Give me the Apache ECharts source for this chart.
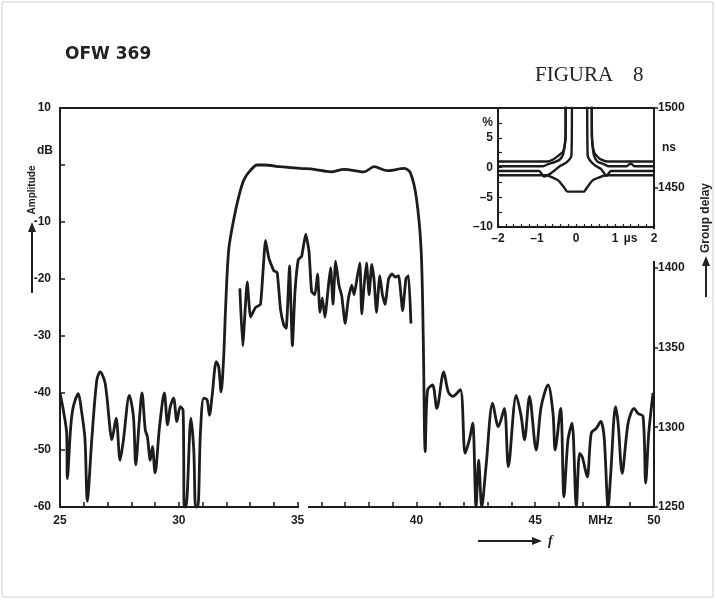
<!DOCTYPE html>
<html>
<head>
<meta charset="utf-8">
<script src="https://cdn.jsdelivr.net/npm/echarts@6/dist/echarts.min.js"></script>
<style>html,body{margin:0;padding:0;background:#fff}#c{width:716px;height:600px}</style>
</head>
<body>
<div id="c"></div>
<script>
// ---- Amplitude response (MHz, dB) ----
const ampFreq = [25.0,25.14,25.28,25.31,25.45,25.56,25.77,25.9,26.05,26.15,
 26.34,26.55,26.69,26.9,27.11,27.18,27.36,27.53,27.67,27.92,
 28.09,28.19,28.33,28.45,28.59,28.68,28.8,28.89,29.0,29.19,
 29.39,29.53,29.64,29.78,29.92,30.06,30.18,30.23,30.3,30.51,
 30.63,30.71,30.8,30.91,31.05,31.19,31.29,31.4,31.58,31.68,
 31.78,31.89,31.96,32.1,32.31,32.52,32.74,33.02,33.3,33.58,
 34.28,35.13,35.69,36.4,36.95,37.8,38.22,38.78,39.49,39.75,
 40.0,40.2,40.29,40.37,40.47,40.68,40.86,41.15,41.34,41.53,
 41.85,42.05,42.23,42.37,42.51,42.62,42.75,42.93,43.21,43.45,
 43.7,43.87,44.2,44.41,44.55,44.76,45.04,45.25,45.54,45.75,
 45.84,46.07,46.21,46.38,46.55,46.73,46.87,46.98,47.19,47.36,
 47.57,47.76,47.9,48.07,48.18,48.38,48.49,48.66,48.91,49.16,
 49.33,49.54,49.65,49.78,49.96];
const ampDb = [-40,-43,-47,-55,-46,-42.4,-40.1,-43,-48,-59,
 -48,-37.7,-36.3,-38.3,-46.5,-48.2,-44.4,-51.8,-48.2,-40.4,
 -44.1,-52.6,-45.3,-40,-46.5,-47.7,-51.8,-49.4,-54,-45.9,
 -40,-45.6,-42.4,-40.9,-45,-42.4,-43,-60,-60,-44.4,
 -50,-60,-60,-47,-40.9,-41.2,-43.9,-40.6,-34.5,-35.4,
 -39.8,-33.6,-26,-14.9,-9.6,-5.6,-2.6,-0.9,0,0,
 -0.3,-0.6,-0.75,-1.2,-0.75,-1.2,-0.3,-1,-0.6,-1.4,
 -5.8,-15,-30.7,-50.3,-39.5,-38.6,-42.7,-36.3,-39.8,-40.6,
 -39.4,-50.6,-48.2,-45.3,-60,-51.8,-60,-52.9,-41.8,-45.9,
 -42.7,-52.9,-40.4,-44.1,-48.2,-40.6,-50,-42.4,-38.6,-43.6,
 -50,-42.7,-58.2,-48.2,-45.3,-60,-50.6,-51.2,-54.7,-47,
 -46.2,-45,-47.7,-60,-54.1,-42.4,-45.3,-54.1,-45.3,-42.7,
 -43.6,-44.1,-55.8,-47,-40];

// ---- Group delay (MHz, ns) ----
const gdFreq = [32.57,32.69,32.88,33.02,33.23,33.44,33.65,33.79,34.0,34.14,
 34.28,34.42,34.52,34.66,34.78,34.89,35.03,35.17,35.34,35.48,
 35.59,35.73,35.84,35.94,36.04,36.15,36.3,36.39,36.49,36.6,
 36.74,36.86,37.0,37.14,37.28,37.38,37.52,37.62,37.7,37.8,
 37.9,38.01,38.12,38.22,38.32,38.46,38.57,38.68,38.83,38.97,
 39.11,39.25,39.42,39.56,39.67,39.77];
const gdNs = [1387,1351,1391,1369,1375,1377,1417,1406,1398,1397,
 1374,1364,1362,1401,1351,1385,1405,1407,1421,1410,
 1385,1383,1396,1372,1381,1369,1389,1400,1377,1404,
 1389,1382,1365,1381,1389,1383,1395,1403,1371,1389,
 1403,1383,1402,1392,1372,1395,1383,1377,1393,1396,
 1394,1395,1373,1393,1395,1365];

// ---- Inset: impulse response traces (µs, %) ----
const irT1 = [-2,-0.75,-0.6,-0.45,-0.33,-0.27,-0.26,0.40,0.41,0.47,0.6,0.8,2];
const irV1 = [1.0,1.0,1.3,2.0,2.7,5,12,12,5,2.5,1.5,1.0,1.0];
const irT2 = [-2,-0.85,-0.7,-0.55,-0.42,-0.33,-0.27,-0.26,0.40,0.41,0.46,0.55,0.7,0.85,1.3,1.4,1.5,2];
const irV2 = [0.2,0.2,0.6,0.9,1.3,2.2,5,12,12,5,2.0,1.0,0.6,0.2,0.2,0.7,0.2,0.2];
const irT3 = [-2,-0.95,-0.82,-0.7,-0.55,-0.4,-0.25,-0.12,-0.09,0.27,0.3,0.38,0.5,0.65,0.78,0.9,2];
const irV3 = [-0.6,-0.6,-1.5,-1.2,-0.5,0.3,0.8,2,12,12,2,1.0,0.3,-0.3,-1.4,-0.6,-0.6];
const irT4 = [-2,-0.75,-0.6,-0.45,-0.3,-0.22,0.2,0.28,0.42,0.58,0.78,2];
const irV4 = [-1.3,-1.3,-1.7,-2.2,-3.4,-4.05,-4.05,-3.4,-2.2,-1.7,-1.3,-1.3];

// ---- Tick labels ----
const freqLabels = {25:'25',30:'30',35:'35',40:'40',45:'45',48:'MHz',50:'50'};
const ampLabels = {10:'10','-10':'-10','-20':'-20','-30':'-30','-40':'-40','-50':'-50','-60':'-60'};
const ampUnitLabels = {'2.5':'dB'};
const delayLabels = {1250:'1250',1300:'1300',1350:'1350',1400:'1400',1450:'1450',1500:'1500'};
const delayUnitLabels = {1475:'ns'};
const insetXLabels = {'-2':'–2','-1':'–1','0':'0','1':'1','1.4':'µs','2':'2'};
const insetYLabels = {'7.5':'%','5':'5','0':'0','-5':'–5','-10':'–10'};

const zip = (a,b) => a.map((v,i)=>[v,b[i]]);
const ink = '#1c1c1c';
const FONT = "'Liberation Sans', Arial, sans-serif";
const lab = (extra) => Object.assign({color:ink, fontFamily:FONT, fontSize:12, fontWeight:'bold'}, extra||{});

const chart = echarts.init(document.getElementById('c'), null, {renderer:'canvas'});
const option = {
  backgroundColor:'#fff',
  animation:false,
  grid:[
    {left:60, top:108, width:594, height:399, show:false},
    {left:498, top:108, width:156, height:119, show:true, backgroundColor:'#fff', borderColor:ink, borderWidth:2, z:5}
  ],
  xAxis:[
    {gridIndex:0, type:'value', min:25, max:50, interval:1, position:'bottom',
     axisLine:{show:true, onZero:false, lineStyle:{color:ink, width:2}},
     axisTick:{show:true, inside:true, length:5, lineStyle:{color:ink, width:1.5}},
     axisLabel:lab({interval:0, margin:8, showMinLabel:true, showMaxLabel:true,
       formatter:v=>{const r=Math.round(v); const t=freqLabels[r]||''; return r===48?'{u|'+t+'}':t;},
       rich:{u:{color:ink, fontFamily:FONT, fontSize:12, fontWeight:'bold', padding:[0,12,0,0]}}}),
     splitLine:{show:false}},
    {gridIndex:0, type:'value', min:25, max:50, position:'top',
     axisLine:{show:true, onZero:false, lineStyle:{color:ink, width:2}},
     axisTick:{show:false}, axisLabel:{show:false}, splitLine:{show:false}},
    {gridIndex:1, type:'value', min:-2, max:2, interval:0.2, position:'bottom', z:6,
     axisLine:{show:true, onZero:false, lineStyle:{color:ink, width:2}},
     axisTick:{show:true, inside:true, length:3, lineStyle:{color:ink, width:1.2}},
     axisLabel:lab({interval:0, margin:6, showMinLabel:true, showMaxLabel:true,
       formatter:v=>insetXLabels[String(Math.round(v*10)/10)]||''}),
     splitLine:{show:false}}
  ],
  yAxis:[
    {gridIndex:0, type:'value', min:-60, max:10, interval:10, position:'left',
     axisLine:{show:true, onZero:false, lineStyle:{color:ink, width:2}},
     axisTick:{show:true, inside:true, length:5, lineStyle:{color:ink, width:1.5}},
     axisLabel:lab({margin:9, showMinLabel:true, showMaxLabel:true,
       formatter:v=>ampLabels[String(Math.round(v))]||''}),
     splitLine:{show:false}},
    {gridIndex:0, type:'value', min:1250, max:1500, interval:50, position:'right',
     axisLine:{show:true, onZero:false, lineStyle:{color:ink, width:2}},
     axisTick:{show:true, inside:false, length:4, lineStyle:{color:ink, width:1.5}},
     axisLabel:lab({margin:4, showMinLabel:true, showMaxLabel:true,
       formatter:v=>delayLabels[Math.round(v)]||''}),
     splitLine:{show:false}},
    {gridIndex:0, type:'value', min:1250, max:1500, interval:25, position:'right',
     axisLine:{show:false}, axisTick:{show:false},
     axisLabel:lab({margin:8, formatter:v=>delayUnitLabels[Math.round(v)]||''}),
     splitLine:{show:false}},
    {gridIndex:1, type:'value', min:-10, max:10, interval:2.5, position:'left', z:6,
     axisLine:{show:true, onZero:false, lineStyle:{color:ink, width:2}},
     axisTick:{show:true, inside:true, length:4, lineStyle:{color:ink, width:1.2}},
     axisLabel:lab({margin:5, showMinLabel:true, showMaxLabel:true,
       formatter:v=>insetYLabels[String(Math.round(v*10)/10)]||''}),
     splitLine:{show:false}},
    {gridIndex:0, type:'value', min:-60, max:10, interval:2.5, position:'left',
     axisLine:{show:false}, axisTick:{show:false},
     axisLabel:lab({margin:7, formatter:v=>ampUnitLabels[String(Math.round(v*10)/10)]||''}),
     splitLine:{show:false}}
  ],
  series:[
    {type:'line', xAxisIndex:0, yAxisIndex:0, data:zip(ampFreq,ampDb), showSymbol:false,
     smooth:0.3, lineStyle:{color:ink, width:2.8}, z:3},
    {type:'line', xAxisIndex:0, yAxisIndex:1, data:zip(gdFreq,gdNs), showSymbol:false,
     smooth:0.15, lineStyle:{color:ink, width:2.8}, z:3},
    {type:'line', xAxisIndex:2, yAxisIndex:3, data:zip(irT1,irV1), showSymbol:false, smooth:0.2, lineStyle:{color:ink, width:2.4}, z:7},
    {type:'line', xAxisIndex:2, yAxisIndex:3, data:zip(irT2,irV2), showSymbol:false, smooth:0.2, lineStyle:{color:ink, width:2.4}, z:7},
    {type:'line', xAxisIndex:2, yAxisIndex:3, data:zip(irT3,irV3), showSymbol:false, smooth:0.2, lineStyle:{color:ink, width:2.4}, z:7},
    {type:'line', xAxisIndex:2, yAxisIndex:3, data:zip(irT4,irV4), showSymbol:false, smooth:0.2, lineStyle:{color:ink, width:2.4}, z:7}
  ],
  graphic:[
    {type:'rect', shape:{x:2, y:2, width:711, height:595}, style:{fill:'none', stroke:'#cfcfcf', lineWidth:1}, z:0},
    {type:'rect', shape:{x:647, y:229, width:16, height:32}, style:{fill:'#fff'}, z:4},
    {type:'rect', shape:{x:299, y:503, width:9, height:8}, style:{fill:'#fff'}, z:4},
    {type:'text', x:65, y:46, style:{text:'OFW 369', font:"bold 17px 'DejaVu Sans', sans-serif", fill:'#222', align:'left', verticalAlign:'top'}, z:10},
    {type:'text', x:535, y:65, style:{text:'FIGURA', font:"21px 'Liberation Serif', 'Times New Roman', serif", fill:'#222', align:'left', verticalAlign:'top'}, z:10},
    {type:'text', x:633, y:65, style:{text:'8', font:"21px 'Liberation Serif', 'Times New Roman', serif", fill:'#222', align:'left', verticalAlign:'top'}, z:10},
    {type:'text', x:32, y:190, rotation:Math.PI/2, style:{text:'Amplitude', font:"bold 10px 'Liberation Sans', Arial, sans-serif", fill:'#222', align:'center', verticalAlign:'middle'}, z:10},
    {type:'line', shape:{x1:32, y1:293, x2:32, y2:230}, style:{stroke:'#222', lineWidth:2}, z:10},
    {type:'polygon', shape:{points:[[32,222],[28,232],[36,232]]}, style:{fill:'#222'}, z:10},
    {type:'text', x:706, y:218, rotation:Math.PI/2, style:{text:'Group delay', font:"bold 12px 'Liberation Sans', Arial, sans-serif", fill:'#222', align:'center', verticalAlign:'middle'}, z:10},
    {type:'line', shape:{x1:706, y1:297, x2:706, y2:264}, style:{stroke:'#222', lineWidth:2}, z:10},
    {type:'polygon', shape:{points:[[706,256],[702,266],[710,266]]}, style:{fill:'#222'}, z:10},
    {type:'line', shape:{x1:478, y1:541, x2:533, y2:541}, style:{stroke:'#222', lineWidth:2}, z:10},
    {type:'polygon', shape:{points:[[542,541],[532,537],[532,545]]}, style:{fill:'#222'}, z:10},
    {type:'text', x:548, y:541, style:{text:'f', font:"italic bold 14px 'Liberation Serif', serif", fill:'#222', align:'left', verticalAlign:'middle'}, z:10}
  ]
};
chart.setOption(option);
</script>
</body>
</html>
